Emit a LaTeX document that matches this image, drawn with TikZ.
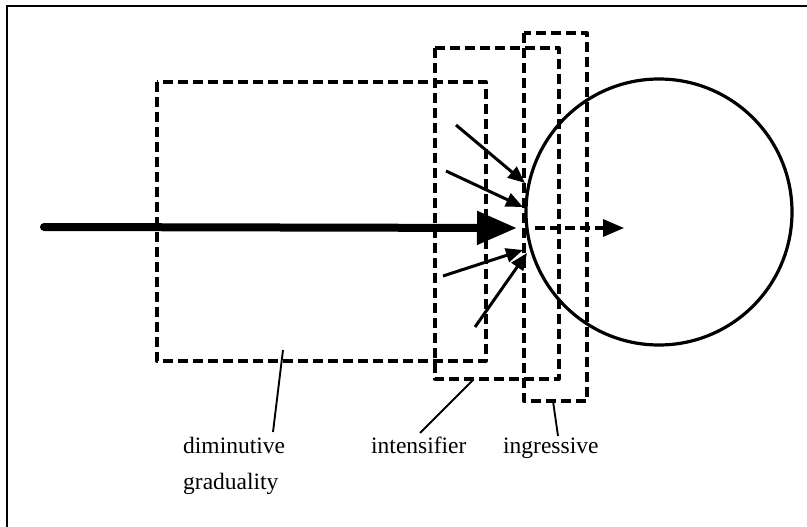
\documentclass[tikz,border=0pt]{standalone}
\usepackage{fontspec}
\setmainfont{Liberation Serif}
\usetikzlibrary{arrows.meta}
\begin{document}
\begin{tikzpicture}[x=1pt,y=-1pt,
  dbox/.style={draw, line width=3.3pt, dash pattern=on 10pt off 5pt, line join=round},
  small/.style={line width=3pt, -{Triangle[length=17pt,width=14pt]}},
  leader/.style={line width=1.9pt},
  lab/.style={font=\fontsize{23.5}{28}\selectfont, inner sep=0pt, anchor=base west}]
\useasboundingbox (0,0) rectangle (807,527);
% frame (only top and left edges visible)
\draw[line width=2pt] (7,540) -- (7,6) -- (820,6);
% dashed boxes
\draw[dbox] (157,82) rectangle (486,361);
\draw[dbox] (435,48) rectangle (559,379);
\draw[dbox] (524,33) rectangle (587,401);
% circle
\node[draw, circle, line width=3.2pt, minimum size=266pt, inner sep=0pt] (c) at (659,212) {};
% main arrow
\coordinate (a0) at (44,227);
\coordinate (a1) at (517,228);
\draw[line width=8pt, line cap=round, -{Triangle[length=40pt,width=32pt]}] (a0) -- (a1);
% dashed arrow
\coordinate (d0) at (535,228);
\coordinate (d1) at (624,228);
\draw[line width=3.3pt, dash pattern=on 10pt off 5pt, -{Triangle[length=21pt,width=17pt]}] (d0) -- (d1);
% small arrows
\coordinate (s1a) at (456,125); \coordinate (s1b) at (525,183);
\coordinate (s2a) at (446,171); \coordinate (s2b) at (523,207);
\coordinate (s3a) at (443,276); \coordinate (s3b) at (523,250);
\coordinate (s4a) at (475,327); \coordinate (s4b) at (527,253);
\draw[small] (s1a) -- (s1b);
\draw[small] (s2a) -- (s2b);
\draw[small] (s3a) -- (s3b);
\draw[small] (s4a) -- (s4b);
% labels
\node[lab] (dim) at (183,453) {diminutive};
\node[lab] (grad) at (183,489) {graduality};
\node[lab] (int) at (371,453) {intensifier};
\node[lab] (ing) at (503,453) {ingressive};
% leaders
\coordinate (l1a) at (283,350); \coordinate (l1b) at (273,432);
\coordinate (l2a) at (473,380); \coordinate (l2b) at (420,433);
\coordinate (l3a) at (553,401); \coordinate (l3b) at (558,436);
\draw[leader] (l1a) -- (l1b);
\draw[leader] (l2a) -- (l2b);
\draw[leader] (l3a) -- (l3b);
\end{tikzpicture}
\end{document}
